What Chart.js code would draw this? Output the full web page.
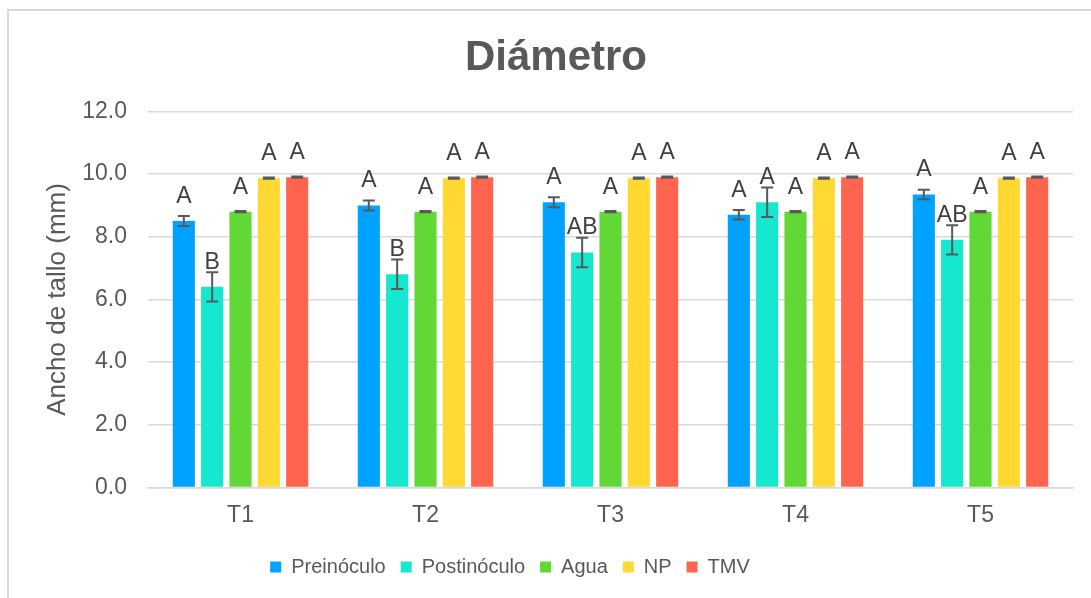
<!DOCTYPE html>
<html>
<head>
<meta charset="utf-8">
<script src="https://cdn.jsdelivr.net/npm/chart.js@4"></script>
<style>
  html, body { margin: 0; padding: 0; background: #fff; overflow: hidden; }
  body { width: 1091px; height: 598px; position: relative; }
  .frame { position: absolute; left: 7px; top: 9px; width: 1200px; height: 700px;
           border-left: 2px solid #d9d9d9; border-top: 2px solid #d9d9d9; }
  .wrap { position: absolute; left: 9px; top: 11px; width: 1094px; height: 587px; }
</style>
</head>
<body>
<div class="frame"></div>
<div class="wrap"><canvas id="chart"></canvas></div>
<script>
const categories = ['T1', 'T2', 'T3', 'T4', 'T5'];
const seriesNames = ['Preinóculo', 'Postinóculo', 'Agua', 'NP', 'TMV'];
const seriesColors = ['#00a2ff', '#16e7cf', '#61d836', '#ffd932', '#ff644e'];

const preinoculo = [8.5, 9.0, 9.1, 8.7, 9.35];
const postinoculo = [6.4, 6.8, 7.5, 9.1, 7.9];
const agua = [8.8, 8.8, 8.8, 8.8, 8.8];
const np = [9.87, 9.87, 9.87, 9.87, 9.87];
const tmv = [9.9, 9.9, 9.9, 9.9, 9.9];

// standard error of each bar
const preinoculoErr = [0.16, 0.16, 0.16, 0.15, 0.15];
const postinoculoErr = [0.47, 0.47, 0.47, 0.47, 0.47];
const aguaErr = [0.02, 0.02, 0.02, 0.02, 0.02];
const npErr = [0.02, 0.02, 0.02, 0.02, 0.02];
const tmvErr = [0.02, 0.02, 0.02, 0.02, 0.02];

// significance letters
const preinoculoLetters = ['A', 'A', 'A', 'A', 'A'];
const postinoculoLetters = ['B', 'B', 'AB', 'A', 'AB'];
const aguaLetters = ['A', 'A', 'A', 'A', 'A'];
const npLetters = ['A', 'A', 'A', 'A', 'A'];
const tmvLetters = ['A', 'A', 'A', 'A', 'A'];

const yTicks = [0, 2, 4, 6, 8, 10, 12];

const values = [preinoculo, postinoculo, agua, np, tmv];
const errors = [preinoculoErr, postinoculoErr, aguaErr, npErr, tmvErr];
const letters = [preinoculoLetters, postinoculoLetters, aguaLetters, npLetters, tmvLetters];

const FONT = '"Liberation Sans", Arial, sans-serif';
const TEXT = '#595959';
const GRID = '#d9d9d9';

const errorBars = {
  id: 'errorBars',
  afterDatasetsDraw(chart) {
    const { ctx } = chart;
    const yScale = chart.scales.y;
    ctx.save();
    chart.data.datasets.forEach((ds, i) => {
      const meta = chart.getDatasetMeta(i);
      meta.data.forEach((bar, j) => {
        const v = ds.data[j];
        const e = ds.errors[j];
        const top = yScale.getPixelForValue(v + e);
        const bottom = yScale.getPixelForValue(v - e);
        ctx.strokeStyle = TEXT;
        ctx.lineWidth = 2;
        ctx.beginPath();
        ctx.moveTo(bar.x, top);
        ctx.lineTo(bar.x, bottom);
        ctx.moveTo(bar.x - 6, top);
        ctx.lineTo(bar.x + 6, top);
        ctx.moveTo(bar.x - 6, bottom);
        ctx.lineTo(bar.x + 6, bottom);
        ctx.stroke();

        ctx.fillStyle = '#404040';
        ctx.font = '23px ' + FONT;
        ctx.textAlign = 'center';
        ctx.textBaseline = 'alphabetic';
        ctx.fillText(ds.letters[j], bar.x, bar.y - 18);
      });
    });
    ctx.restore();
  },
};

// nudge title and legend to where the original had them
const shiftBlocks = {
  id: 'shiftBlocks',
  afterLayout(chart) {
    chart.titleBlock.left += 15;
    chart.titleBlock.right += 15;
    chart.legend.left -= 31;
    chart.legend.right -= 31;
  },
};

new Chart(document.getElementById('chart'), {
  type: 'bar',
  data: {
    labels: categories,
    datasets: seriesNames.map((name, i) => ({
      label: name,
      data: values[i],
      errors: errors[i],
      letters: letters[i],
      backgroundColor: seriesColors[i],
      categoryPercentage: 0.766,
      barPercentage: 0.78,
    })),
  },
  options: {
    responsive: true,
    maintainAspectRatio: false,
    animation: false,
    layout: { padding: { top: 22, right: 30, bottom: 11, left: 0 } },
    scales: {
      x: {
        afterFit(scale) {
          scale.height += 7;
        },
        grid: { display: false },
        border: { color: GRID, width: 1.5 },
        ticks: { color: TEXT, font: { family: FONT, size: 23 }, padding: 6 },
      },
      y: {
        min: 0,
        max: 12,
        afterBuildTicks(scale) {
          scale.ticks = yTicks.map((v) => ({ value: v }));
        },
        afterFit(scale) {
          scale.width = 139;
        },
        grid: { color: GRID, lineWidth: 1.5, drawTicks: false },
        border: { display: false },
        ticks: {
          color: TEXT,
          font: { family: FONT, size: 23 },
          padding: 21,
          callback: (v) => Number(v).toFixed(1),
        },
        title: {
          display: true,
          text: 'Ancho de tallo (mm)',
          color: TEXT,
          font: { family: FONT, size: 26 },
          padding: { top: 33, bottom: 0 },
        },
      },
    },
    plugins: {
      title: {
        display: true,
        text: 'Diámetro',
        color: TEXT,
        font: { family: FONT, size: 42, weight: 'bold' },
        padding: { top: 0, bottom: 28 },
      },
      legend: {
        position: 'bottom',
        labels: {
          color: TEXT,
          font: { family: FONT, size: 20 },
          boxWidth: 11,
          boxHeight: 11,
          padding: 15,
        },
      },
      tooltip: { enabled: false },
    },
  },
  plugins: [errorBars, shiftBlocks],
});
</script>
</body>
</html>
